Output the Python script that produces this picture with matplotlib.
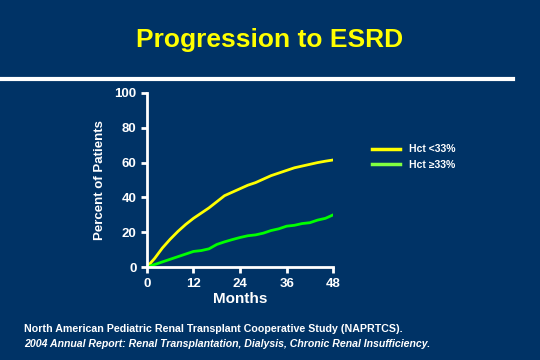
import numpy as np
import matplotlib.pyplot as plt
from matplotlib.lines import Line2D

plt.rcParams['font.family'] = ['Liberation Sans', 'DejaVu Sans']
plt.rcParams['font.weight'] = 'bold'

bg = '#003366'

months = [0, 2, 4, 6, 8, 10, 12, 14, 16, 18, 20, 22, 24, 26, 28, 30, 32, 34, 36, 38, 40, 42, 44, 46, 48]
hct_low = [0, 5, 11, 16, 20.5, 24.5, 28, 31, 34, 37.5, 41, 43, 45, 47, 48.5, 50.5, 52.5, 54, 55.5, 57, 58, 59, 60, 60.8, 61.5]
hct_high = [0, 1.5, 3, 4.5, 6, 7.5, 9, 9.5, 10.5, 13, 14.5, 15.8, 17, 18, 18.5, 19.5, 21, 22, 23.5, 24, 25, 25.5, 27, 28, 30]

fig = plt.figure(figsize=(5.4, 3.6), dpi=100, facecolor=bg)
ax = fig.add_axes([0.272, 0.258, 0.345, 0.484], facecolor=bg)

ax.plot(months, hct_low, color='#ffff00', lw=2)
ax.plot(months, hct_high, color='#00ff00', lw=2)

ax.set_xlim(0, 48)
ax.set_ylim(0, 100)
ax.set_xticks([0, 12, 24, 36, 48])
ax.set_yticks([0, 20, 40, 60, 80, 100])
for s in ['top', 'right']:
    ax.spines[s].set_visible(False)
for s in ['left', 'bottom']:
    ax.spines[s].set_color('white')
    ax.spines[s].set_linewidth(2)
ax.tick_params(colors='white', labelsize=9.5, width=2, length=4)
for lbl in ax.get_xticklabels() + ax.get_yticklabels():
    lbl.set_fontweight('bold')
ax.set_xlabel('Months', color='white', fontsize=11, fontweight='bold', labelpad=2)
ax.set_ylabel('Percent of Patients', color='white', fontsize=9.5, fontweight='bold', labelpad=6)

handles = [Line2D([], [], color='#ffff00', lw=2.5), Line2D([], [], color='#80ff40', lw=2.5)]
fig.legend(handles, ['Hct <33%', 'Hct \u226533%'], loc='upper left', bbox_to_anchor=(0.672, 0.625),
           frameon=False, labelcolor='white', prop={'size': 7.5, 'weight': 'bold'},
           handlelength=2.7, handletextpad=0.8, labelspacing=0.55)

fig.text(0.5, 0.89, 'Progression to ESRD', color='#ffff00', fontsize=19, fontweight='bold', ha='center', va='center')
fig.add_artist(Line2D([0, 0.95], [0.78, 0.78], color='white', lw=3, transform=fig.transFigure))

fig.text(0.045, 0.085, 'North American Pediatric Renal Transplant Cooperative Study (NAPRTCS).',
         color='white', fontsize=7.7, fontweight='bold', va='center')
fig.text(0.045, 0.045, '2004 Annual Report: Renal Transplantation, Dialysis, Chronic Renal Insufficiency.',
         color='white', fontsize=7.6, fontweight='bold', style='italic', va='center')

fig.savefig('out.png', dpi=100, facecolor=bg)
